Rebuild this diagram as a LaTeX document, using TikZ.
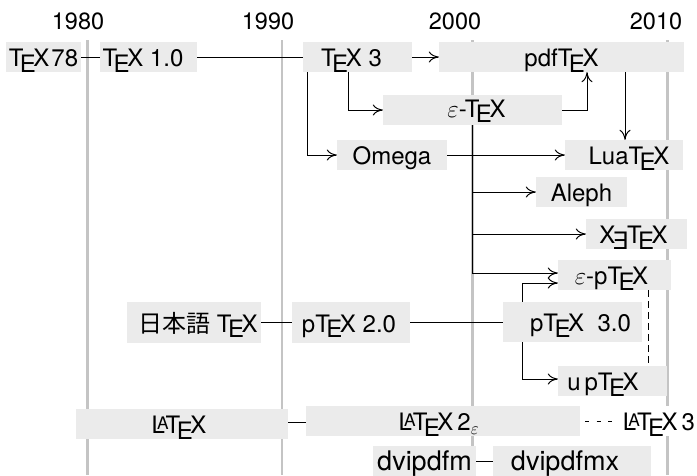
\documentclass[tikz,border=0pt]{standalone}
\usepackage{fontspec}
\setmainfont{TeX Gyre Heros}
\newfontfamily\cjk{Noto Sans CJK JP}
\usepackage{graphicx}
\usetikzlibrary{arrows.meta}
\definecolor{boxgray}{RGB}{235,235,235}
\definecolor{yeargray}{RGB}{196,196,196}
\newcommand\TX{T\kern-.15em\lower.45ex\hbox{E}\kern-.1em X}
\newcommand\LX{L\kern-.33em\raisebox{.32ex}{\scalebox{.72}{A}}\kern-.12em\TX}
\newcommand\XTX{X\kern-.1em\lower.45ex\hbox{\reflectbox{E}}\kern-.08em\TX}
\newcommand\sh[2]{\hspace*{#1pt}#2\hspace*{-#1pt}}
\begin{document}
\begin{tikzpicture}[x=1pt,y=-1pt,
  tbox/.style={fill=boxgray, inner sep=0pt, text height=19pt, text depth=0pt,
    font=\fontsize{24}{28}\selectfont},
  bigbox/.style={tbox, font=\fontsize{27}{30}\selectfont},
  year/.style={anchor=base, inner sep=0pt, font=\fontsize{23.5}{28}\selectfont},
  yearline/.style={draw=yeargray, line width=2.5pt},
  conn/.style={draw=black, line width=1pt},
  arr/.style={conn, -{To[length=10pt,width=11pt]}},
  dashconn/.style={conn, dash pattern=on 7pt off 4pt},
 ]
\useasboundingbox (0,0) rectangle (697,475);
% year grid
\foreach \x in {87.7,282,472.7,667.5}
  \draw[yearline] (\x,40) -- (\x,475);
\node[year] (y1980) at (78,29) {1980};
\node[year] (y1990) at (268,29) {1990};
\node[year] (y2000) at (455,29) {2000};
\node[year] (y2010) at (656,29) {2010};
% boxes
\node[tbox, minimum width=75pt, minimum height=30pt] (t78) at (43.5,57) {\TX\kern2pt 78};
\node[tbox, minimum width=97pt, minimum height=30pt] (t10) at (148.5,57) {\sh{-5.5}{\TX\ 1.0}};
\node[tbox, minimum width=109pt, minimum height=30pt] (t3) at (357.5,57) {\sh{-6}{\TX\ 3}};
\node[tbox, minimum width=245pt, minimum height=30pt] (pdf) at (561.5,57) {pdf\TX};
\node[tbox, minimum width=179pt, minimum height=30pt, text height=14pt] (etex) at (472.5,110) {\sh{4}{$\varepsilon$-\TX}};
\node[tbox, minimum width=110pt, minimum height=30pt] (omega) at (392,155) {Omega};
\node[tbox, minimum width=118pt, minimum height=30pt] (lua) at (624,155) {\sh{5}{Lua\TX}};
\node[tbox, minimum width=91pt, minimum height=30pt] (aleph) at (581.5,192) {Aleph};
\node[tbox, minimum width=101pt, minimum height=30pt] (xetex) at (636.5,234) {\sh{-3}{\XTX}};
\node[tbox, minimum width=113pt, minimum height=30pt] (eptex) at (614.5,275) {\sh{-3}{$\varepsilon$-p\TX}};
\node[tbox, minimum width=134pt, minimum height=41pt] (jtex) at (194,322.5) {\sh{4}{{\cjk 日本語} \TX}};
\node[tbox, minimum width=118pt, minimum height=41pt] (ptex2) at (351,322.5) {\sh{-2}{p\TX\ 2.0}};
\node[tbox, minimum width=139pt, minimum height=40pt] (ptex3) at (572.5,322) {\sh{8}{p\TX\ \ 3.0}};
\node[tbox, minimum width=109pt, minimum height=30pt] (uptex) at (612.5,381) {\sh{-9.5}{u\,p\TX}};
\node[tbox, minimum width=212pt, minimum height=30pt] (latex) at (182,424) {\sh{-3}{\LX}};
\node[tbox, minimum width=274pt, minimum height=30pt] (latexe) at (443,421) {\sh{-4}{\LX\,2$_\varepsilon$}};
\node[tbox, fill=white, minimum width=82pt, minimum height=30pt] (latex3) at (656,421) {\sh{3}{\LX\,3}};
\node[bigbox, minimum width=103pt, minimum height=30pt] (dvipdfm) at (424.5,461) {dvipdfm};
\node[bigbox, minimum width=158pt, minimum height=30pt] (dvipdfmx) at (572,461) {\sh{-7}{dvipdfmx}};
% connectors
\draw[conn] (t78.east) -- (t10.west);
\draw[conn] (t10.east) -- (t3.west);
\draw[arr] (t3.east) -- (pdf.west);
\draw[arr] ([xshift=-9.5pt]t3.south) |- (etex.west);
\draw[arr] (etex.east) -| ([xshift=25.5pt]pdf.south);
\draw[arr] ([xshift=-50.5pt]t3.south) |- (omega.west);
\draw[arr] (omega.east) -- (lua.west);
\draw[arr] ([xshift=63.5pt]pdf.south) -- ([xshift=63.5pt]pdf.south |- lua.north);
\draw[arr] (etex.south) |- ([yshift=2pt]eptex.west);
\draw[arr] (etex.south |- aleph.west) -- (aleph.west);
\draw[arr] (etex.south |- xetex.west) -- (xetex.west);
\draw[conn] (jtex.east) -- (ptex2.west);
\draw[conn] (ptex2.east) -- (ptex2.east -| ptex3.west);
\draw[arr] ([xshift=-50.5pt]ptex3.north) |- ([yshift=-8pt]eptex.west);
\draw[arr] ([xshift=-50.5pt]ptex3.south) |- ([yshift=2pt]uptex.west);
\draw[dashconn] ([xshift=33.5pt]eptex.south) -- ([xshift=33.5pt]eptex.south |- uptex.north);
\draw[conn] ([yshift=2pt]latex.east) -- ([yshift=2pt]latex.east -| latexe.west);
\draw[conn, dash pattern=on 4pt off 7.5pt, dash phase=6.5pt] (latexe.east) -- (latex3.west);
\draw[conn] (dvipdfm.east) -- (dvipdfmx.west);
\end{tikzpicture}
\end{document}
